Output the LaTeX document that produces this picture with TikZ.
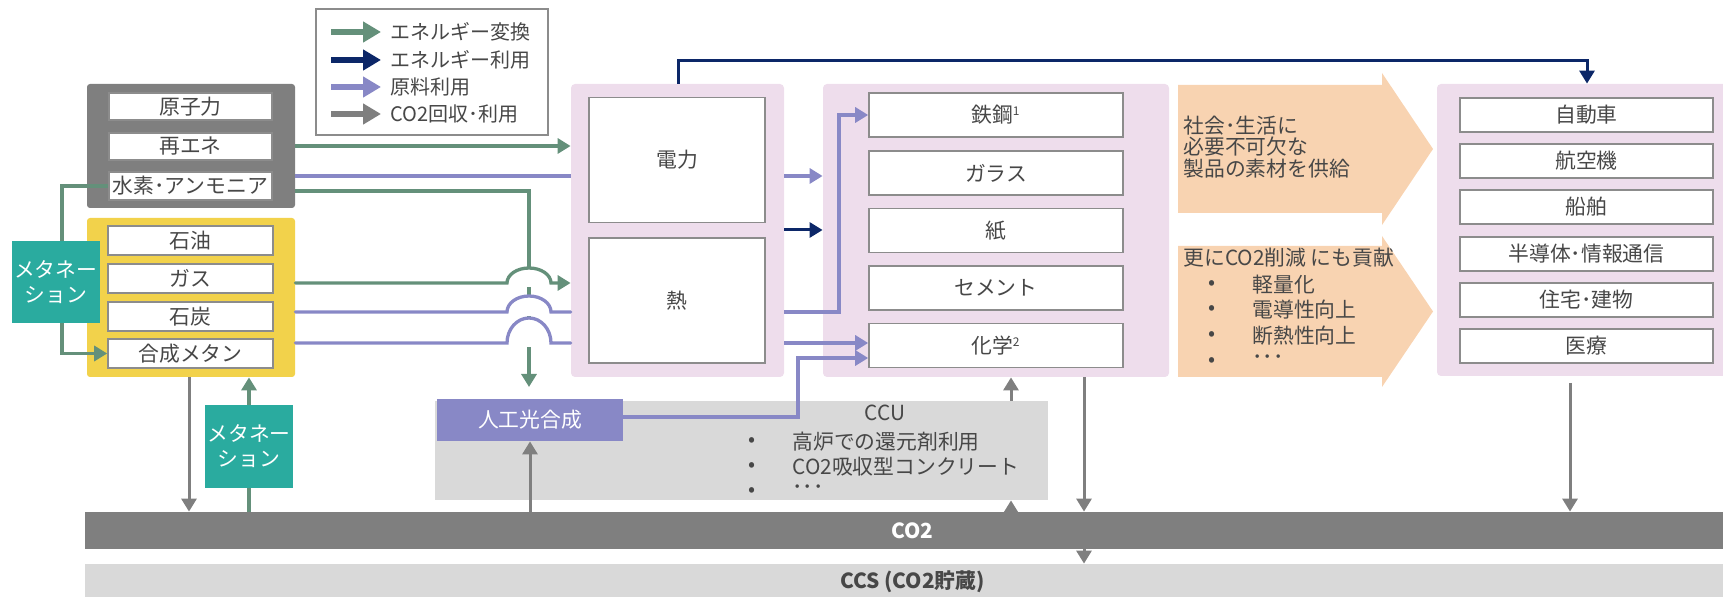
\documentclass[tikz,border=0pt]{standalone}
\usepackage{fontspec}
\setmainfont{Noto Sans CJK JP}
\usetikzlibrary{arrows.meta}
\definecolor{cgreen}{HTML}{64907A}
\definecolor{cnavy}{HTML}{0C2768}
\definecolor{cpurple}{HTML}{8888C6}
\definecolor{cgray}{HTML}{7F7F7F}
\definecolor{cyellow}{HTML}{F2D24B}
\definecolor{cteal}{HTML}{2AAB9F}
\definecolor{cpink}{HTML}{EEDDEC}
\definecolor{corange}{HTML}{F8D3B1}
\definecolor{clight}{HTML}{D9D9D9}
\definecolor{ctext}{HTML}{474747}
\definecolor{cborder}{HTML}{8C8C8C}
\begin{document}
\begin{tikzpicture}[x=0.5pt,y=-0.5pt,
  every node/.style={text=ctext, inner sep=0pt, font=\fontsize{10.4pt}{10.8pt}\selectfont},
  grp/.style={rounded corners=1.5pt, draw=none},
  wbox/.style={draw=cborder, line width=0.8pt, fill=white},
  teal/.style={fill=cteal, text=white, align=center, font=\fontsize{10.4pt}{12.5pt}\selectfont},
  pinkbox/.style={fill=cpink, rounded corners=2pt},
  tip/.style={-{Triangle[length=6.5pt,width=7.5pt]}},
  gl/.style={draw=cgreen, line width=1.65pt},
  ga/.style={gl, tip},
  pl/.style={draw=cpurple, line width=1.65pt},
  pa/.style={pl, tip},
  na/.style={draw=cnavy, line width=1.5pt, tip},
  gra/.style={draw=cgray, line width=1.5pt, tip},
  legarrow/.style={line width=2.8pt, -{Triangle[length=9pt,width=10pt]}},
  legtext/.style={anchor=west, font=\fontsize{10pt}{11pt}\selectfont},
  lst/.style={anchor=west}
]
\useasboundingbox (0,0) rectangle (1723,597);

% ---------- legend ----------
\node[draw=cborder, line width=0.8pt, fill=white, minimum width=116pt, minimum height=63pt] (leg) at (432,72) {};
\coordinate (la1) at (331,32);  \coordinate (lb1) at (381,32);
\coordinate (la2) at (331,60);  \coordinate (lb2) at (381,60);
\coordinate (la3) at (331,87);  \coordinate (lb3) at (381,87);
\coordinate (la4) at (331,114); \coordinate (lb4) at (381,114);
\draw[legarrow, cgreen] (la1) -- (lb1);
\draw[legarrow, cnavy] (la2) -- (lb2);
\draw[legarrow, cpurple] (la3) -- (lb3);
\draw[legarrow, cgray] (la4) -- (lb4);
\node[legtext] (lt1) at (390,32) {エネルギー変換};
\node[legtext] (lt2) at (390,60) {エネルギー利用};
\node[legtext] (lt3) at (390,87) {原料利用};
\node[legtext] (lt4) at (390,114) {CO2回収･利用};

% ---------- sources ----------
\node[grp, fill=cgray, minimum width=104pt, minimum height=62pt] (G) at (191,146) {};
\node[wbox, minimum width=81.5pt, minimum height=13.5pt] (nuc) at (190.5,106.5) {原子力};
\node[wbox, minimum width=81.5pt, minimum height=13.5pt] (ren) at (190.5,146.5) {再エネ};
\node[wbox, minimum width=81.5pt, minimum height=14pt] (h2) at (190.5,186) {水素･アンモニア};

\node[grp, fill=cyellow, minimum width=104pt, minimum height=79.5pt] (Y) at (191,297.5) {};
\node[wbox, minimum width=82.5pt, minimum height=14.5pt] (oil) at (190.5,240.5) {石油};
\node[wbox, minimum width=82.5pt, minimum height=14.5pt] (gas) at (190.5,278.5) {ガス};
\node[wbox, minimum width=82.5pt, minimum height=14.5pt] (coal) at (190.5,316.5) {石炭};
\node[wbox, minimum width=82.5pt, minimum height=14.5pt] (meth) at (190.5,353.5) {合成メタン};

\node[teal, minimum width=44.25pt, minimum height=41pt] (met1) at (55.75,282) {メタネー\\ション};
\node[teal, minimum width=44pt, minimum height=41.5pt] (met2) at (249,446.5) {メタネー\\ション};

% ---------- power / heat ----------
\node[pinkbox, minimum width=106.5pt, minimum height=146.5pt] (p1) at (677.5,230.5) {};
\node[wbox, minimum width=88pt, minimum height=62.5pt] (elec) at (677,160) {電力};
\node[wbox, minimum width=88pt, minimum height=62.5pt] (heat) at (677,300.5) {熱};

% ---------- materials ----------
\node[pinkbox, minimum width=173pt, minimum height=146.5pt] (p2) at (996,230.5) {};
\node[wbox, minimum width=127pt, minimum height=22pt] (steel) at (996,115) {鉄鋼\textsuperscript{\fontsize{6pt}{6pt}\selectfont 1}};
\node[wbox, minimum width=127pt, minimum height=22pt] (glass) at (996,173) {ガラス};
\node[wbox, minimum width=127pt, minimum height=22pt] (paper) at (996,230.5) {紙};
\node[wbox, minimum width=127pt, minimum height=22pt] (cement) at (996,288) {セメント};
\node[wbox, minimum width=127pt, minimum height=22pt] (chem) at (996,345.5) {化学\textsuperscript{\fontsize{6pt}{6pt}\selectfont 2}};

% ---------- orange arrows ----------
\fill[corange] (1178,85) -- (1382,85) -- (1382,73) -- (1433,149) -- (1382,225) -- (1382,213) -- (1178,213) -- cycle;
\fill[corange] (1178,246) -- (1382,246) -- (1382,236) -- (1433,311.5) -- (1382,387) -- (1382,377) -- (1178,377) -- cycle;
\node[anchor=west, align=left] (o1) at (1183,147) {社会･生活に\\必要不可欠な\\製品の素材を供給};
\node[lst] (o2) at (1183,258) {更にCO2削減 にも貢献};
\node (ob1) at (1212,285) {•};
\node (ob2) at (1212,310) {•};
\node (ob3) at (1212,336) {•};
\node (ob4) at (1212,362) {•};
\node[lst] (oi1) at (1252,285) {軽量化};
\node[lst] (oi2) at (1252,310) {電導性向上};
\node[lst] (oi3) at (1252,336) {断熱性向上};
\node[lst] (oi4) at (1252,360) {･･･};

% ---------- products ----------
\node[pinkbox, minimum width=151.5pt, minimum height=146pt] (p3) at (1588.5,230) {};
\node[wbox, minimum width=126.5pt, minimum height=17pt] (car) at (1586.5,115) {自動車};
\node[wbox, minimum width=126.5pt, minimum height=17pt] (air) at (1586.5,161) {航空機};
\node[wbox, minimum width=126.5pt, minimum height=17pt] (ship) at (1586.5,207) {船舶};
\node[wbox, minimum width=126.5pt, minimum height=17pt] (semi) at (1586.5,254) {半導体･情報通信};
\node[wbox, minimum width=126.5pt, minimum height=17pt] (house) at (1586.5,300) {住宅･建物};
\node[wbox, minimum width=126.5pt, minimum height=17pt] (med) at (1586.5,346) {医療};

% ---------- CCU ----------
\node[fill=clight, minimum width=306.5pt, minimum height=49.5pt] (ccu) at (741.5,450.5) {};
\node (ccut) at (885,413) {CCU};
\node (cb1) at (752,442) {•};
\node (cb2) at (752,467) {•};
\node (cb3) at (752,492) {•};
\node[lst] (ci1) at (792,442) {高炉での還元剤利用};
\node[lst] (ci2) at (792,467) {CO2吸収型コンクリート};
\node[lst] (ci3) at (792,490) {･･･};
\node[fill=cpurple, text=white, minimum width=93pt, minimum height=21pt] (ap) at (530,420) {人工光合成};

% ---------- CO2 / CCS bars ----------
\node[fill=cgray, text=white, minimum width=827.5pt, minimum height=18.5pt, font=\fontsize{10.4pt}{12pt}\selectfont\bfseries] (co2) at (912.5,530.5) {CO2};
\node[fill=clight, minimum width=827.5pt, minimum height=18pt, font=\fontsize{10.4pt}{12pt}\selectfont\bfseries] (ccs) at (912.5,582) {CCS (CO2貯蔵)};

% ---------- connectors ----------
\draw[ga] (G.east |- 0,146) -- (p1.west |- 0,146);
\draw[pl] (G.east |- 0,176) -- (p1.west |- 0,176);
\draw[pa] (p1.east |- 0,176) -- (p2.west |- 0,176);
\coordinate (jd) at (529,387);
\draw[ga] (G.east |- 0,191) -| (jd);
\fill[white] (507,287) -- (507,283) arc[start angle=180, end angle=0, x radius=11pt, y radius=7.5pt] -- (551,287) -- cycle;
\fill[white] (507,316) -- (507,312) arc[start angle=180, end angle=0, x radius=11pt, y radius=8pt] -- (551,316) -- cycle;
\fill[white] (507,347) -- (507,343) arc[start angle=180, end angle=0, x radius=11pt, y radius=12.5pt] -- (551,347) -- cycle;
\draw[ga, line cap=round] (Y.east |- 0,283) -- (507,283) arc[start angle=180, end angle=0, x radius=11pt, y radius=7.5pt] -- (p1.west |- 0,283);
\draw[pl, line cap=round] (Y.east |- 0,312) -- (507,312) arc[start angle=180, end angle=0, x radius=11pt, y radius=8pt] -- (p1.west |- 0,312);
\draw[pl, line cap=round] (Y.east |- 0,343) -- (507,343) arc[start angle=180, end angle=0, x radius=11pt, y radius=12.5pt] -- (p1.west |- 0,343);
\draw[pa] (p1.east |- 0,312) -- (839,312) |- (steel.west);
\draw[pa] (p1.east |- 0,343) -- (chem.west |- 0,343);
\draw[na] (p1.east |- 0,230) -- (p2.west |- 0,230);
\draw[na] (p1.north -| 678,0) -- (678,61) -| (p3.north -| 1587,0);
\draw[pa] (ap.east |- 0,417) -- (798,417) |- (chem.west |- 0,358);
\draw[gl] (h2.west) -| (met1.north -| 62,0);
\draw[ga] (met1.south -| 62,0) |- (meth.west);
\draw[gra] (Y.south -| 189,0) -- (co2.north -| 189,0);
\draw[gl] (co2.north -| met2.south) -- (met2.south);
\draw[ga] (met2.north) -- (Y.south -| met2.north);
\draw[gra] (co2.north -| ap.south) -- (ap.south);
\draw[gra] (co2.north -| 1011,0) -- (ccu.south -| 1011,0);
\draw[gra] (ccu.north -| 1011,0) -- (p2.south -| 1011,0);
\draw[gra] (p2.south -| 1084,0) -- (co2.north -| 1084,0);
\draw[gra] (co2.south -| 1084,0) -- (ccs.north -| 1084,0);
\coordinate (p3o) at (1570,383);
\draw[gra] (p3o) -- (co2.north -| p3o);
\end{tikzpicture}
\end{document}
